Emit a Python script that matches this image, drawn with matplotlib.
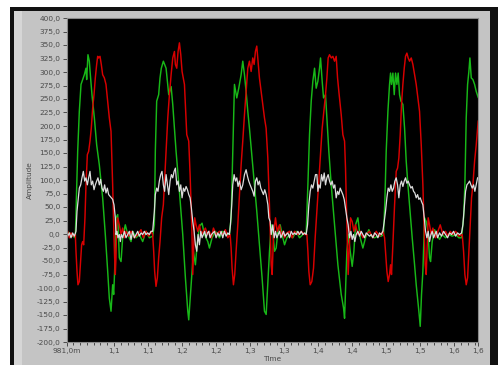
import numpy as np
import matplotlib
matplotlib.use("Agg")
import matplotlib.pyplot as plt
from matplotlib.patches import Rectangle

# data (time in ms, amplitude)
green_t = [979.5, 984.4, 989.3, 993.2, 996.7, 999.1, 1001.6, 1004.0, 1006.5, 1008.9,
           1009.9, 1011.8, 1013.8, 1015.3, 1017.7, 1021.2, 1024.6, 1028.5, 1033.4, 1037.3,
           1040.8, 1043.2, 1045.7, 1048.1, 1049.6, 1051.0, 1053.0, 1055.5, 1057.9, 1060.4,
           1062.8, 1066.7, 1070.2, 1075.1, 1077.5, 1082.4, 1087.3, 1092.2, 1097.1, 1102.0,
           1106.9, 1109.4, 1110.8, 1112.8, 1115.7, 1117.7, 1119.6, 1122.6, 1126.6, 1130.5,
           1134.0, 1136.4, 1141.3, 1146.2, 1151.1, 1155.0, 1158.5, 1159.9, 1163.4, 1166.8,
           1169.7, 1172.2, 1175.6, 1179.5, 1183.0, 1187.9, 1190.3, 1194.2, 1199.1, 1205.0,
           1209.9, 1214.8, 1219.7, 1222.2, 1224.6, 1227.1, 1230.5, 1233.4, 1236.9, 1239.3,
           1241.8, 1244.2, 1246.7, 1249.1, 1253.0, 1256.5, 1259.9, 1263.8, 1267.7, 1271.2,
           1273.7, 1276.2, 1278.6, 1281.1, 1283.5, 1286.0, 1288.4, 1290.9, 1294.3, 1298.2,
           1300.7, 1304.1, 1308.0, 1312.9, 1317.8, 1322.7, 1327.6, 1332.5, 1335.0, 1337.4,
           1339.9, 1342.3, 1344.8, 1347.2, 1349.7, 1352.1, 1353.6, 1356.0, 1358.0, 1360.9,
           1362.9, 1365.8, 1369.3, 1374.2, 1379.1, 1384.0, 1387.4, 1388.9, 1390.3, 1392.3,
           1394.7, 1397.2, 1400.1, 1402.6, 1405.0, 1408.5, 1411.9, 1415.8, 1419.7, 1424.6,
           1428.1, 1433.0, 1437.9, 1442.8, 1446.2, 1448.1, 1450.1, 1452.6, 1455.0, 1456.5,
           1457.9, 1459.9, 1461.9, 1463.8, 1465.8, 1467.7, 1469.7, 1471.7, 1474.6, 1477.1,
           1479.5, 1482.0, 1484.4, 1488.3, 1491.8, 1494.2, 1496.7, 1498.1, 1500.1, 1502.0,
           1504.0, 1506.5, 1508.9, 1511.4, 1513.8, 1515.3, 1517.7, 1521.2, 1524.6, 1528.5,
           1532.4, 1537.3, 1542.2, 1547.1, 1552.0, 1556.9, 1560.8, 1563.8, 1565.7, 1567.7,
           1569.7, 1571.6, 1573.1, 1575.1, 1577.5, 1580.0, 1582.4, 1585.3]
green_v = [-1, 2, -4, -7, 153, 227, 277, 286, 295, 307,
           286, 332, 320, 295, 258, 215, 165, 128, 67, -1,
           -69, -119, -143, -94, -112, -69, 30, 36, -44, -51,
           -7, 17, -1, -14, 5, -7, -1, -14, 5, -7,
           -4, 17, 153, 246, 258, 289, 307, 320, 307, 258,
           273, 240, 153, 79, -1, -81, -143, -159, -94, -32,
           -57, -20, 14, 20, -1, -14, -26, -7, 5, -7,
           5, -1, -1, 30, 153, 277, 252, 270, 295, 320,
           295, 264, 227, 196, 141, 91, 42, -20, -81, -143,
           -149, -88, -32, 17, 5, -32, -26, 5, 17, -7,
           -20, -7, -1, -7, 5, -7, -1, 2, 91, 184,
           246, 283, 307, 270, 283, 307, 326, 283, 252, 258,
           215, 153, 91, 17, -57, -112, -137, -156, -106, -32,
           -1, -32, -60, -32, 17, 30, -7, -26, -7, 8,
           -4, -7, -4, -4, -1, 60, 153, 227, 277, 298,
           277, 298, 258, 298, 277, 298, 258, 246, 240, 196,
           135, 91, 54, -7, -57, -94, -125, -143, -171, -112,
           -69, 30, 23, 5, -44, -51, -14, 8, -1, -10,
           -1, -7, -1, -4, -1, -7, -7, 30, 91, 215,
           277, 301, 326, 289, 286, 277, 264, 253]

red_t = [979.5, 982.0, 984.4, 986.9, 989.3, 993.2, 994.2, 995.7, 997.1, 999.1,
         1000.6, 1002.5, 1004.0, 1005.5, 1007.4, 1008.9, 1010.9, 1012.8, 1014.8, 1016.7,
         1018.7, 1020.7, 1022.6, 1024.6, 1026.1, 1027.5, 1029.5, 1031.4, 1033.4, 1035.9,
         1038.3, 1040.8, 1043.2, 1045.7, 1048.1, 1049.6, 1051.0, 1052.0, 1053.0, 1054.0,
         1055.5, 1057.9, 1060.4, 1062.8, 1065.3, 1067.7, 1071.6, 1075.1, 1080.0, 1084.9,
         1089.8, 1093.2, 1097.1, 1101.0, 1104.5, 1106.9, 1108.4, 1109.8, 1111.8, 1113.8,
         1115.7, 1117.7, 1120.1, 1122.6, 1126.6, 1129.1, 1131.5, 1134.0, 1136.4, 1138.9,
         1140.3, 1142.3, 1144.2, 1146.2, 1148.2, 1150.1, 1153.6, 1157.0, 1159.9, 1161.9,
         1163.4, 1164.8, 1165.8, 1167.3, 1168.7, 1170.7, 1173.2, 1175.6, 1178.5, 1181.5,
         1184.4, 1187.4, 1190.3, 1193.2, 1196.2, 1200.1, 1205.0, 1209.9, 1213.8, 1217.3,
         1220.7, 1222.2, 1223.6, 1225.6, 1227.5, 1229.5, 1232.0, 1234.4, 1236.9, 1239.3,
         1241.8, 1244.2, 1246.7, 1249.1, 1251.6, 1254.0, 1256.0, 1257.9, 1259.9, 1261.8,
         1263.8, 1266.3, 1268.7, 1271.2, 1273.6, 1276.1, 1278.5, 1281.1, 1282.5, 1284.5,
         1287.4, 1289.9, 1293.3, 1295.8, 1298.2, 1300.7, 1304.1, 1308.0, 1311.9, 1315.4,
         1320.3, 1325.2, 1330.1, 1333.5, 1335.0, 1336.4, 1338.4, 1340.8, 1343.3, 1345.7,
         1348.2, 1350.6, 1353.1, 1356.0, 1359.0, 1360.9, 1362.9, 1364.8, 1366.8, 1369.3,
         1371.7, 1374.2, 1376.6, 1378.6, 1380.5, 1384.0, 1386.4, 1388.9, 1390.3, 1391.8,
         1393.3, 1394.2, 1395.7, 1397.7, 1400.1, 1402.6, 1405.0, 1408.5, 1411.9, 1415.8,
         1420.7, 1425.6, 1430.5, 1435.4, 1440.3, 1445.2, 1447.7, 1449.1, 1451.1, 1453.0,
         1455.0, 1456.5, 1457.9, 1459.9, 1462.4, 1464.8, 1466.8, 1468.7, 1470.7, 1472.6,
         1474.6, 1476.6, 1478.5, 1480.5, 1482.4, 1484.4, 1486.9, 1489.3, 1491.8, 1494.2,
         1496.7, 1499.1, 1501.6, 1504.0, 1506.0, 1507.4, 1508.9, 1510.4, 1511.8, 1513.8,
         1516.2, 1518.7, 1522.6, 1526.1, 1529.5, 1533.4, 1537.3, 1540.8, 1544.2, 1548.1,
         1552.0, 1556.9, 1561.8, 1563.8, 1565.7, 1567.7, 1569.7, 1571.6, 1573.6, 1575.5,
         1577.5, 1580.0, 1582.4, 1585.3]
red_v = [-4, 5, -7, 2, -4, -1, -32, -69, -94, -88,
         -57, -20, -14, -20, 30, 91, 147, 153, 172, 196,
         233, 258, 289, 314, 329, 326, 329, 314, 295, 289,
         277, 246, 215, 190, 91, 17, -44, -75, -44, 17,
         30, 17, -1, 11, -7, 5, -4, 5, -7, -1,
         8, -7, 5, -4, 5, -1, -32, -69, -97, -81,
         -44, -14, 30, 54, 153, 215, 258, 295, 326, 338,
         314, 307, 338, 354, 332, 301, 277, 184, 172, 110,
         54, -7, -75, -20, 30, 17, 5, 17, -1, 5,
         11, -1, 5, -7, 11, -1, 5, -1, 8, -7,
         -1, -26, -63, -94, -75, -32, 17, 73, 128, 172,
         221, 264, 307, 320, 301, 326, 314, 338, 348, 320,
         289, 264, 240, 215, 196, 141, 54, -57, -75, -1,
         30, 5, 17, -4, 5, -7, 2, 5, -7, 5,
         -1, 5, -1, -1, -32, -69, -94, -88, -63, -7,
         42, 91, 141, 196, 233, 258, 289, 326, 332, 326,
         329, 320, 329, 289, 264, 221, 184, 172, 122, 42,
         -32, -75, -32, 30, 23, 5, 17, -1, 5, -7,
         -1, 5, -7, 5, -4, 5, -7, -32, -69, -88,
         -75, -57, -75, -20, 54, 116, 122, 141, 184, 240,
         277, 307, 329, 335, 326, 320, 326, 314, 295, 277,
         252, 227, 165, 91, 5, -57, -75, -20, 30, 17,
         -1, 11, -7, 5, 17, -1, 5, -4, 5, -1,
         5, -4, -1, -32, -75, -94, -81, -32, 17, 67,
         91, 135, 165, 209]

white_t = [979.5, 982.0, 984.4, 986.9, 989.3, 991.8, 994.2, 995.7, 997.6, 999.1,
           1001.1, 1003.0, 1005.0, 1007.0, 1008.9, 1010.9, 1012.8, 1014.8, 1016.7, 1018.7,
           1020.7, 1022.6, 1024.6, 1026.5, 1028.5, 1030.5, 1032.4, 1034.4, 1036.3, 1038.3,
           1040.3, 1042.2, 1044.2, 1046.1, 1048.1, 1050.1, 1052.0, 1053.0, 1054.5, 1055.9,
           1057.9, 1059.4, 1060.8, 1062.8, 1065.3, 1067.7, 1070.2, 1072.6, 1075.1, 1077.5,
           1080.0, 1082.4, 1084.9, 1087.3, 1089.8, 1092.2, 1094.7, 1097.1, 1099.6, 1102.0,
           1104.5, 1106.9, 1109.4, 1110.8, 1112.8, 1114.7, 1116.7, 1118.7, 1120.6, 1122.6,
           1124.5, 1126.6, 1128.6, 1130.5, 1132.5, 1134.4, 1136.4, 1138.4, 1140.3, 1142.3,
           1144.2, 1146.2, 1148.2, 1150.1, 1152.1, 1154.0, 1156.0, 1158.0, 1159.9, 1161.9,
           1163.8, 1165.8, 1167.8, 1169.7, 1171.7, 1173.6, 1175.6, 1177.6, 1179.5, 1181.5,
           1183.4, 1185.4, 1187.4, 1189.3, 1191.3, 1193.2, 1197.7, 1200.1, 1202.6, 1205.0,
           1207.5, 1209.9, 1212.4, 1214.8, 1217.3, 1219.7, 1221.2, 1223.1, 1224.6, 1226.6,
           1228.5, 1230.5, 1232.4, 1234.4, 1236.9, 1239.3, 1241.8, 1244.2, 1246.2, 1248.1,
           1250.1, 1252.0, 1254.0, 1256.0, 1257.9, 1259.9, 1261.8, 1263.8, 1265.8, 1267.7,
           1269.7, 1271.6, 1273.7, 1276.2, 1277.6, 1279.6, 1281.1, 1283.5, 1285.5, 1287.4,
           1289.4, 1291.3, 1293.3, 1295.3, 1297.2, 1299.2, 1301.1, 1303.1, 1305.6, 1308.0,
           1310.5, 1312.9, 1315.4, 1317.8, 1320.3, 1322.7, 1325.2, 1327.6, 1330.1, 1332.5,
           1334.5, 1336.4, 1338.4, 1340.3, 1342.3, 1344.3, 1346.2, 1348.2, 1349.7, 1351.1,
           1353.1, 1355.0, 1357.0, 1359.0, 1360.9, 1362.9, 1364.8, 1366.8, 1368.8, 1370.7,
           1372.7, 1374.6, 1376.6, 1378.6, 1380.5, 1382.5, 1384.4, 1386.4, 1388.4, 1390.3,
           1392.3, 1394.2, 1396.2, 1398.2, 1400.1, 1402.1, 1404.0, 1406.0, 1408.5, 1410.9,
           1413.4, 1415.8, 1418.3, 1420.7, 1423.2, 1425.6, 1428.1, 1430.5, 1433.0, 1435.4,
           1437.9, 1440.3, 1442.8, 1445.2, 1447.2, 1449.1, 1451.1, 1453.0, 1455.0, 1457.0,
           1458.9, 1460.9, 1462.8, 1464.8, 1466.8, 1468.7, 1470.7, 1472.6, 1474.6, 1476.6,
           1478.5, 1480.5, 1482.4, 1484.4, 1486.4, 1488.3, 1490.3, 1492.2, 1494.2, 1496.2,
           1498.1, 1500.1, 1502.0, 1504.0, 1506.0, 1507.9, 1509.9, 1511.8, 1513.8, 1515.8,
           1517.7, 1519.7, 1521.6, 1523.6, 1525.6, 1528.5, 1531.4, 1534.4, 1537.3, 1540.3,
           1543.2, 1546.1, 1549.1, 1552.0, 1555.0, 1557.9, 1560.8, 1562.8, 1564.8, 1566.7,
           1568.7, 1570.6, 1572.6, 1574.6, 1576.5, 1578.5, 1580.4, 1582.4, 1584.4]
white_v = [-1, -4, 2, -7, 2, -4, 5, 42, 67, 85,
           91, 104, 116, 98, 104, 91, 104, 116, 91, 98,
           82, 91, 98, 104, 91, 101, 85, 79, 91, 76,
           85, 73, 70, 67, 64, 54, 30, -1, 5, -7,
           -1, -14, -1, -7, 5, -7, -1, 5, -10, 5,
           -7, -1, 5, -4, 2, -1, 5, -1, 2, -1,
           5, 5, 42, 73, 85, 79, 98, 110, 116, 91,
           79, 110, 91, 73, 98, 110, 104, 116, 122, 91,
           98, 79, 91, 67, 85, 79, 88, 82, 73, 67,
           48, 23, 5, -20, -32, -1, -20, 5, -7, -1,
           5, -7, 2, 5, -7, -1, 5, -7, 2, -4,
           5, -7, 5, -4, 2, -1, 17, 54, 91, 110,
           98, 104, 88, 98, 82, 91, 110, 119, 107, 98,
           91, 85, 79, 70, 98, 104, 91, 98, 85, 79,
           73, 82, 73, 54, 30, 23, -1, 17, -7, 5,
           -7, -1, 5, -7, -1, 5, -4, -1, 2, -7,
           5, -1, 2, -1, 5, -1, 5, -1, 2, -1,
           17, 54, 79, 91, 85, 98, 110, 110, 79, 91,
           85, 110, 98, 113, 91, 104, 110, 98, 91, 98,
           85, 91, 67, 79, 73, 85, 79, 73, 64, 48,
           30, 17, -7, 5, -10, -1, -14, -1, 5, -4,
           5, -1, -7, 2, -1, -4, -1, -7, 2, -1,
           -7, 2, -1, 5, 23, 42, 67, 85, 79, 91,
           79, 85, 98, 104, 91, 67, 91, 98, 88, 98,
           104, 94, 98, 91, 85, 88, 79, 76, 67, 73,
           64, 67, 60, 54, 30, 5, -7, 5, -14, -1,
           5, -7, -1, 5, -7, 2, -4, 5, -1, -7,
           2, -1, 5, -4, 2, -1, 2, 17, 48, 79,
           91, 94, 98, 91, 85, 91, 79, 91, 104]

y_ticks = np.arange(-200, 401, 25)
x_major = [0.981, 1.05, 1.10, 1.15, 1.20, 1.25, 1.30, 1.35, 1.40, 1.45, 1.50, 1.55, 1.585]
x_labels = ["981,0m", "1,1", "1,1", "1,2", "1,2", "1,3", "1,3", "1,4", "1,4",
            "1,5", "1,5", "1,6", "1,6"]
x_minor = np.round(np.arange(0.99, 1.585, 0.01), 3)

plt.rcParams["font.family"] = "DejaVu Sans"
fig = plt.figure(figsize=(5.02, 3.65), dpi=100)
fig.patch.set_facecolor("white")

# LabVIEW-like panel behind the graph
for x0, w, top, col in [(10, 488, 7, "#111111"), (14, 476, 11, "#c4c4c4"),
                        (14, 8, 11, "#d6d6d6")]:
    fig.patches.append(Rectangle((x0 / 502, 0), w / 502, 1 - top / 365,
                                 transform=fig.transFigure, facecolor=col,
                                 edgecolor="none", zorder=-5))

ax = fig.add_axes([67 / 502, 1 - 342 / 365, 411 / 502, 324 / 365])
ax.set_zorder(2)
ax.set_facecolor("black")

ax.plot(np.array(green_t) / 1000, green_v, color="#18b818", lw=1.05)
ax.plot(np.array(red_t) / 1000, red_v, color="#d80000", lw=1.05)
ax.plot(np.array(white_t) / 1000, white_v, color="#dcdcdc", lw=0.9)

ax.set_xlim(0.981, 1.585)
ax.set_ylim(-200, 400)
ax.set_yticks(y_ticks)
ax.set_yticklabels([f"{v:.1f}".replace(".", ",") for v in y_ticks])
ax.set_xticks(x_major)
ax.set_xticklabels(x_labels)
ax.set_xticks(x_minor, minor=True)

ax.tick_params(axis="both", which="major", labelsize=5.3, colors="#4a4a4a",
               length=3, width=0.7, pad=1.5)
ax.tick_params(axis="x", which="minor", length=2, width=0.7, colors="#4a4a4a")
for s in ax.spines.values():
    s.set_color("#8a8a8a")
    s.set_linewidth(0.8)

ax.set_ylabel("Amplitude", fontsize=5.3, color="#4a4a4a", labelpad=3)
ax.set_xlabel("Time", fontsize=5.3, color="#4a4a4a", labelpad=1)

fig.savefig("out.png", dpi=100, facecolor=fig.get_facecolor())
